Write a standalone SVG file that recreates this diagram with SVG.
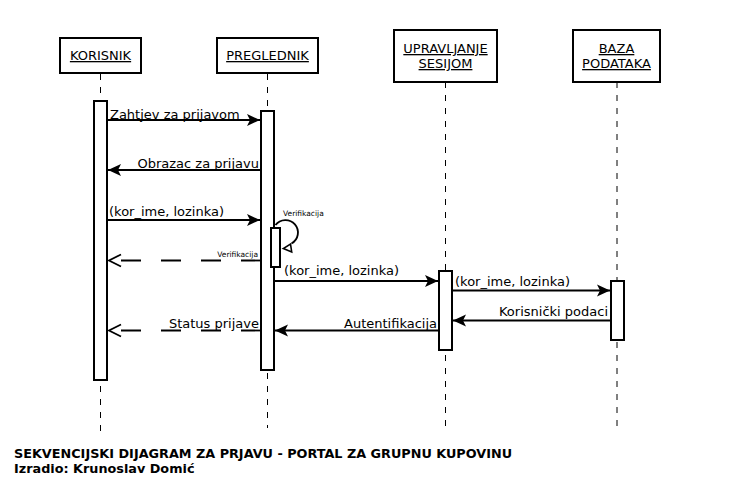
<svg xmlns="http://www.w3.org/2000/svg" width="731" height="484" viewBox="0 0 731 484">
<style>
.box{fill:#fff;stroke:#000;stroke-width:2}
.act{fill:#fff;stroke:#000;stroke-width:2}
.life{stroke:#000;stroke-width:1;stroke-dasharray:6 7;fill:none}
.msg{stroke:#000;stroke-width:1.8;fill:none}
.ret{stroke:#000;stroke-width:1.8;fill:none;stroke-dasharray:20 20}
.hd{font-family:"DejaVu Sans",sans-serif;font-size:13px;text-anchor:middle;text-decoration:underline;fill:#000}
.lbl{font-family:"DejaVu Sans",sans-serif;font-size:13px;fill:#000}
.sm{font-family:"DejaVu Sans",sans-serif;font-size:7.5px;fill:#000}
.ft{font-family:"DejaVu Sans",sans-serif;font-size:12.8px;font-weight:bold;fill:#000}
</style>
<defs>
<marker id="fa" markerUnits="userSpaceOnUse" markerWidth="14" markerHeight="13" viewBox="0 0 14 13" refX="13.5" refY="6.5" orient="auto">
<path d="M0.5,0.5 L13.5,6.5 L0.5,12.5 L3.5,6.5 Z" fill="#000"/>
</marker>
<marker id="oa" markerUnits="userSpaceOnUse" markerWidth="16" markerHeight="16" viewBox="-2 -2 16 16" refX="12" refY="6" orient="auto">
<path d="M0,0 L12,6 L0,12" fill="none" stroke="#000" stroke-width="1.8"/>
</marker>
</defs>
<rect width="731" height="484" fill="#fff"/>
<g id="korisnik">
<line class="life" x1="100.5" y1="74" x2="100.5" y2="434"/>
<rect class="box" x="60" y="38" width="81" height="35"/>
<text class="hd" x="100.5" y="60">KORISNIK</text>
<rect class="act" x="94" y="101" width="13" height="279"/>
</g>
<g id="preglednik">
<line class="life" x1="267.5" y1="74" x2="267.5" y2="428"/>
<rect class="box" x="217" y="38" width="101" height="35"/>
<text class="hd" x="267.5" y="60">PREGLEDNIK</text>
<rect class="act" x="261" y="111" width="13" height="259"/>
<rect class="act" x="271" y="228" width="9" height="39"/>
</g>
<g id="upravljanje">
<line class="life" x1="445.5" y1="82" x2="445.5" y2="432"/>
<rect class="box" x="394" y="30" width="103" height="52"/>
<text class="hd" x="445.5" y="53">UPRAVLJANJE</text>
<text class="hd" x="445.5" y="68">SESIJOM</text>
<rect class="act" x="439" y="271" width="13" height="79"/>
</g>
<g id="baza">
<line class="life" x1="617" y1="82" x2="617" y2="428"/>
<rect class="box" x="573" y="30" width="87" height="52"/>
<text class="hd" x="616.5" y="53">BAZA</text>
<text class="hd" x="616.5" y="68">PODATAKA</text>
<rect class="act" x="611" y="281" width="13" height="59"/>
</g>
<g id="connectors">
<line class="msg" x1="107" y1="120" x2="260" y2="120" marker-end="url(#fa)"/>
<text class="lbl" x="110" y="119">Zahtjev za prijavom</text>
<line class="msg" x1="261" y1="170" x2="108" y2="170" marker-end="url(#fa)"/>
<text class="lbl" x="259" y="167.5" text-anchor="end">Obrazac za prijavu</text>
<line class="msg" x1="107" y1="220" x2="260" y2="220" marker-end="url(#fa)"/>
<text class="lbl" x="109" y="216">(kor_ime, lozinka)</text>
<path class="msg" d="M275.5,225 A12.5,12.5 0 1 1 291.5,243.5"/>
<polygon points="283.3,248.5 291.7,252 290.5,244" fill="#fff" stroke="#000" stroke-width="1.6"/>
<text class="sm" x="283" y="216">Verifikacija</text>
<line class="ret" x1="261" y1="260.5" x2="109" y2="260.5" marker-end="url(#oa)"/>
<text class="sm" x="258" y="257" text-anchor="end">Verifikacija</text>
<line class="msg" x1="274" y1="281" x2="438" y2="281" marker-end="url(#fa)"/>
<text class="lbl" x="284" y="274.5">(kor_ime, lozinka)</text>
<line class="msg" x1="452" y1="290.5" x2="610" y2="290.5" marker-end="url(#fa)"/>
<text class="lbl" x="455" y="286">(kor_ime, lozinka)</text>
<line class="msg" x1="611" y1="320.5" x2="453" y2="320.5" marker-end="url(#fa)"/>
<text class="lbl" x="608" y="316" text-anchor="end">Korisnički podaci</text>
<line class="msg" x1="439" y1="330.5" x2="275" y2="330.5" marker-end="url(#fa)"/>
<text class="lbl" x="437" y="327.5" text-anchor="end">Autentifikacija</text>
<line class="ret" x1="261" y1="330.5" x2="109" y2="330.5" marker-end="url(#oa)"/>
<text class="lbl" x="259" y="327.5" text-anchor="end">Status prijave</text>
</g>
<g id="footer">
<text class="ft" x="14" y="457.5">SEKVENCIJSKI DIJAGRAM ZA PRJAVU - PORTAL ZA GRUPNU KUPOVINU</text>
<text class="ft" x="14" y="472.5">Izradio: Krunoslav Domić</text>
</g>
</svg>
